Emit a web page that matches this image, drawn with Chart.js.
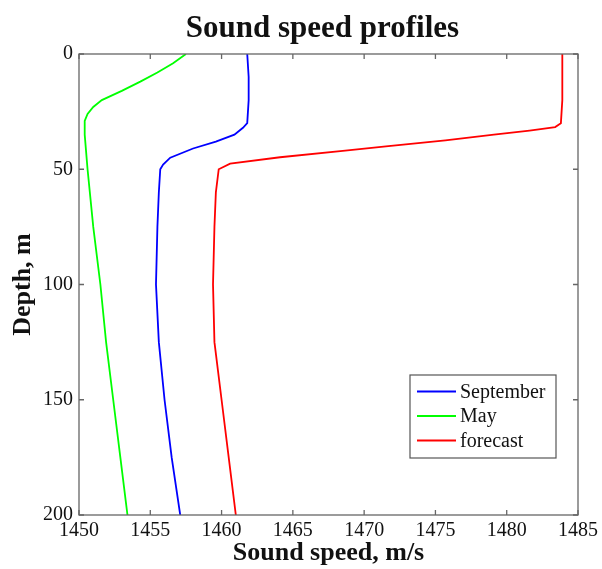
<!DOCTYPE html>
<html lang="en">
<head>
    <meta charset="UTF-8">
    <title>Sound speed profiles</title>
    <script src="https://cdn.jsdelivr.net/npm/chart.js"></script>
    <style>
        body {
            margin: 0;
            background: #fff;
        }
        .chart-container {
            width: 602px;
            height: 569px;
        }
    </style>
</head>
<body>

    <div class="chart-container">
        <canvas id="soundSpeedChart"></canvas>
    </div>

    <script>
        // Profiles (depth in m, speed in m/s)
        const depthSeptember = [0, 10, 20, 30, 32, 35, 38, 41, 45, 48, 50, 60, 75, 100, 125, 150, 175, 200];
        const speedSeptember = [1461.8, 1461.9, 1461.9, 1461.8, 1461.5, 1460.9, 1459.6, 1458.0, 1456.4, 1455.9, 1455.7, 1455.6, 1455.5, 1455.4, 1455.6, 1456.0, 1456.5, 1457.1];

        const depthMay = [0, 4, 8, 12, 16, 20, 23, 26, 29, 35, 50, 75, 100, 125, 150, 175, 200];
        const speedMay = [1457.5, 1456.6, 1455.5, 1454.3, 1453.0, 1451.6, 1451.0, 1450.6, 1450.4, 1450.4, 1450.6, 1451.0, 1451.5, 1451.9, 1452.4, 1452.9, 1453.4];

        const depthForecast = [0, 10, 20, 30, 31.7, 33.2, 35, 37.5, 40, 42, 44.8, 47.6, 50, 60, 75, 100, 125, 150, 175, 200];
        const speedForecast = [1483.9, 1483.9, 1483.9, 1483.8, 1483.4, 1481.6, 1479.1, 1475.7, 1471.7, 1468.5, 1464.1, 1460.6, 1459.8, 1459.6, 1459.5, 1459.4, 1459.5, 1460.0, 1460.5, 1461.0];

        const seriesLabels = ['September', 'May', 'forecast'];
        const seriesColors = ['#0000ff', '#00ff00', '#ff0000'];

        const xTicks = [1450, 1455, 1460, 1465, 1470, 1475, 1480, 1485];
        const yTicks = [0, 50, 100, 150, 200];

        const serif = "'Liberation Serif', 'Times New Roman', serif";
        const frameColor = '#666';
        const textColor = '#111';

        const toPoints = (depths, speeds) => depths.map((d, i) => ({ x: speeds[i], y: d }));

        // Title, box frame, inward ticks (MATLAB style) and legend inside the axes
        const decorations = {
            id: 'decorations',
            afterDraw(chart) {
                const ctx = chart.ctx;
                const area = chart.chartArea;
                const xs = chart.scales.x;
                const ys = chart.scales.y;

                ctx.save();
                ctx.fillStyle = textColor;
                ctx.font = 'bold 31px ' + serif;
                ctx.textAlign = 'center';
                ctx.textBaseline = 'middle';
                ctx.fillText('Sound speed profiles', (area.left + area.right) / 2 - 6, 29);

                ctx.strokeStyle = frameColor;
                ctx.lineWidth = 1.3;
                ctx.strokeRect(area.left, area.top, area.right - area.left, area.bottom - area.top);

                ctx.beginPath();
                xTicks.forEach(v => {
                    const px = xs.getPixelForValue(v);
                    ctx.moveTo(px, area.bottom); ctx.lineTo(px, area.bottom - 5);
                    ctx.moveTo(px, area.top); ctx.lineTo(px, area.top + 5);
                });
                yTicks.forEach(v => {
                    const py = ys.getPixelForValue(v);
                    ctx.moveTo(area.left, py); ctx.lineTo(area.left + 5, py);
                    ctx.moveTo(area.right, py); ctx.lineTo(area.right - 5, py);
                });
                ctx.stroke();

                // legend box
                const lw = 146, lh = 83;
                const lx = area.right - 22 - lw;
                const ly = area.bottom - 57 - lh;
                ctx.fillStyle = '#fff';
                ctx.fillRect(lx, ly, lw, lh);
                ctx.strokeStyle = '#555';
                ctx.lineWidth = 1.2;
                ctx.strokeRect(lx, ly, lw, lh);

                ctx.font = '20px ' + serif;
                ctx.textAlign = 'left';
                ctx.textBaseline = 'middle';
                chart.data.datasets.forEach((ds, i) => {
                    const rowY = ly + 16.5 + i * 24.5;
                    ctx.strokeStyle = ds.borderColor;
                    ctx.lineWidth = 2;
                    ctx.beginPath();
                    ctx.moveTo(lx + 7, rowY);
                    ctx.lineTo(lx + 46, rowY);
                    ctx.stroke();
                    ctx.fillStyle = textColor;
                    ctx.fillText(ds.label, lx + 50, rowY + 1);
                });
                ctx.restore();
            }
        };

        const datasets = [
            toPoints(depthSeptember, speedSeptember),
            toPoints(depthMay, speedMay),
            toPoints(depthForecast, speedForecast)
        ].map((pts, i) => ({
            label: seriesLabels[i],
            data: pts,
            borderColor: seriesColors[i],
            backgroundColor: seriesColors[i],
            borderWidth: 1.8,
            pointRadius: 0,
            tension: 0,
            fill: false
        }));

        new Chart(document.getElementById('soundSpeedChart'), {
            type: 'line',
            data: { datasets: datasets },
            plugins: [decorations],
            options: {
                responsive: true,
                maintainAspectRatio: false,
                animation: false,
                layout: {
                    padding: { top: 54, right: 23, left: 0, bottom: 0 }
                },
                scales: {
                    x: {
                        type: 'linear',
                        min: 1450,
                        max: 1485,
                        grid: { display: false, drawTicks: false },
                        border: { display: false },
                        afterBuildTicks: s => { s.ticks = xTicks.map(v => ({ value: v })); },
                        afterFit: s => { s.height = 54; },
                        ticks: {
                            color: textColor,
                            padding: 4,
                            maxRotation: 0,
                            font: { family: serif, size: 20 },
                            callback: v => String(v)
                        },
                        title: {
                            display: true,
                            text: 'Sound speed, m/s',
                            color: textColor,
                            padding: { top: 0, bottom: 0 },
                            font: { family: serif, size: 26, weight: 'bold' }
                        }
                    },
                    y: {
                        type: 'linear',
                        reverse: true,
                        min: 0,
                        max: 200,
                        grid: { display: false, drawTicks: false },
                        border: { display: false },
                        afterBuildTicks: s => { s.ticks = yTicks.map(v => ({ value: v })); },
                        afterFit: s => { s.width = 79; },
                        ticks: {
                            color: textColor,
                            padding: 6,
                            font: { family: serif, size: 20 },
                            callback: v => String(v)
                        },
                        title: {
                            display: true,
                            text: 'Depth, m',
                            color: textColor,
                            padding: { top: 8, bottom: 0 },
                            font: { family: serif, size: 26, weight: 'bold' }
                        }
                    }
                },
                plugins: {
                    legend: { display: false },
                    title: { display: false },
                    tooltip: { enabled: false }
                }
            }
        });
    </script>

</body>
</html>
